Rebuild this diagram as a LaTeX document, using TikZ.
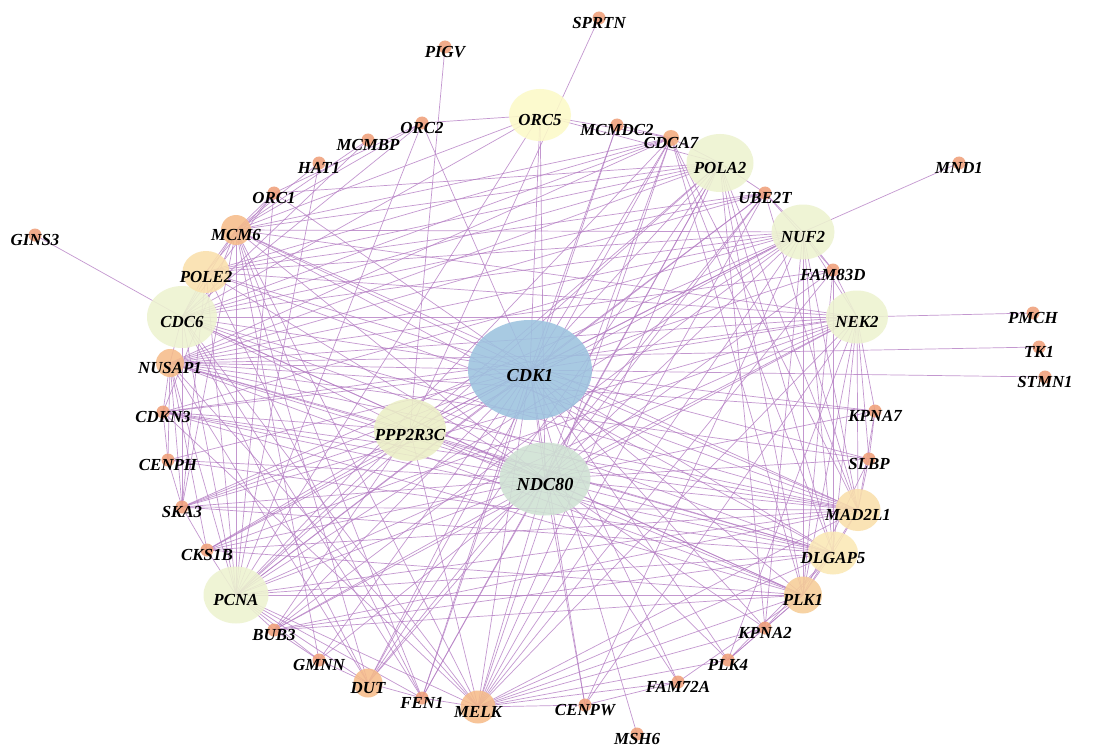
\documentclass[tikz,border=0pt]{standalone}
\usepackage{fontspec}
\setmainfont{Liberation Serif}
\usetikzlibrary{shapes.geometric, backgrounds}

\definecolor{hubblue}{HTML}{9DC3DF}
\definecolor{ndcgreen}{HTML}{CFE2D3}
\definecolor{palegreen}{HTML}{EDF3D0}
\definecolor{pppgreen}{HTML}{EBEFC6}
\definecolor{paleyellow}{HTML}{FCFAC8}
\definecolor{sand}{HTML}{FAE0AB}
\definecolor{lightsand}{HTML}{FBE9B6}
\definecolor{apricot}{HTML}{F7CE98}
\definecolor{peach}{HTML}{F6BC8A}
\definecolor{salmon}{HTML}{F3AB7E}
\definecolor{dotcol}{HTML}{F0A07A}
\definecolor{linkcol}{HTML}{B57EC4}

\tikzset{
  lbl/.style={font=\fontsize{12pt}{14pt}\selectfont\bfseries\itshape,
    inner sep=0pt, fill opacity=1, text opacity=1, yshift=-0.13cm},
  gene/.style n args={4}{ellipse, inner sep=0pt,
    minimum width=#1*0.025cm, minimum height=#2*0.025cm,
    fill=#3, fill opacity=0.88, label={[lbl]center:#4}},
  dot/.style={gene={13}{13}{dotcol}{#1}},
  link/.style={draw=linkcol, line width=0.5pt, draw opacity=0.8}
}

\begin{document}
\begin{tikzpicture}[x=0.025cm, y=-0.025cm]
    \useasboundingbox (0,0) rectangle (1101,749);

    % hubs in the middle
    \node[gene={124}{100}{hubblue}{\fontsize{13pt}{15pt}\selectfont CDK1}] (cdk1) at (530,370) {};
    \node[gene={91}{73}{ndcgreen}{\fontsize{13pt}{15pt}\selectfont NDC80}] (ndc80) at (545,479) {};
    \node[gene={72}{62}{pppgreen}{PPP2R3C}] (ppp) at (410,430) {};

    % larger genes on the ring
    \node[gene={62}{52}{paleyellow}{ORC5}] (orc5) at (540,115) {};
    \node[gene={67}{58}{palegreen}{POLA2}] (pola2) at (720,163) {};
    \node[gene={63}{55}{palegreen}{NUF2}] (nuf2) at (803,232) {};
    \node[gene={62}{53}{palegreen}{NEK2}] (nek2) at (857,317) {};
    \node[gene={70}{62}{palegreen}{CDC6}] (cdc6) at (182,317) {};
    \node[gene={65}{57}{palegreen}{PCNA}] (pcna) at (236,595) {};
    \node[gene={47}{42}{sand}{POLE2}] (pole2) at (206,272) {};
    \node[gene={45}{42}{sand}{MAD2L1}] (mad) at (858,510) {};
    \node[gene={50}{43}{lightsand}{DLGAP5}] (dlgap) at (833,553) {};
    \node[gene={38}{37}{apricot}{PLK1}] (plk1) at (803,595) {};
    \node[gene={30}{30}{peach}{MCM6}] (mcm6) at (236,230) {};
    \node[gene={28}{28}{peach}{NUSAP1}] (nusap) at (170,363) {};
    \node[gene={29}{29}{peach}{DUT}] (dut) at (368,683) {};
    \node[gene={35}{33}{peach}{MELK}] (melk) at (478,707) {};
    \node[gene={16}{16}{salmon}{CDCA7}] (cdca7) at (671,138) {};

    % small genes
    \node[dot=SPRTN] (sprtn) at (599,18) {};
    \node[dot=PIGV] (pigv) at (445,47) {};
    \node[dot=ORC2] (orc2) at (422,123) {};
    \node[dot=MCMBP] (mcmbp) at (368,140) {};
    \node[dot=HAT1] (hat1) at (319,163) {};
    \node[dot=ORC1] (orc1) at (274,193) {};
    \node[dot=GINS3] (gins3) at (35,235) {};
    \node[dot=CDKN3] (cdkn3) at (163,412) {};
    \node[dot=CENPH] (cenph) at (168,460) {};
    \node[dot=SKA3] (ska3) at (182,507) {};
    \node[dot=CKS1B] (cks1b) at (207,550) {};
    \node[dot=BUB3] (bub3) at (274,630) {};
    \node[dot=GMNN] (gmnn) at (319,660) {};
    \node[dot=FEN1] (fen1) at (422,698) {};
    \node[dot=CENPW] (cenpw) at (585,705) {};
    \node[dot=MSH6] (msh6) at (637,734) {};
    \node[dot=FAM72A] (fam72a) at (678,682) {};
    \node[dot=PLK4] (plk4) at (728,660) {};
    \node[dot=KPNA2] (kpna2) at (765,628) {};
    \node[dot=SLBP] (slbp) at (869,459) {};
    \node[dot=KPNA7] (kpna7) at (875,411) {};
    \node[dot=STMN1] (stmn1) at (1045,377) {};
    \node[dot=TK1] (tk1) at (1039,347) {};
    \node[dot=PMCH] (pmch) at (1033,313) {};
    \node[dot=FAM83D] (fam83d) at (833,270) {};
    \node[dot=MND1] (mnd1) at (959,163) {};
    \node[dot=UBE2T] (ube2t) at (765,193) {};
    \node[dot=MCMDC2] (mcmdc2) at (617,125) {};

    \begin{scope}[on background layer]
    \fill[white] (0,0) rectangle (1101,749);
    % interactions
    \foreach \a/\b in {gins3/cdc6, pigv/ppp, sprtn/ppp, mnd1/nuf2, pmch/nek2, tk1/nusap, stmn1/cdk1, msh6/cdk1,
      cdk1/orc5, cdk1/orc1, cdk1/orc2, cdk1/mcm6, cdk1/pole2, cdk1/cdc6, cdk1/nusap, cdk1/cdkn3, cdk1/cenph,
      cdk1/ska3, cdk1/cks1b, cdk1/pcna, cdk1/bub3, cdk1/gmnn, cdk1/dut, cdk1/fen1, cdk1/melk, cdk1/cenpw,
      cdk1/fam72a, cdk1/plk4, cdk1/kpna2, cdk1/plk1, cdk1/dlgap, cdk1/mad, cdk1/slbp, cdk1/kpna7, cdk1/nek2,
      cdk1/fam83d, cdk1/nuf2, cdk1/ube2t, cdk1/pola2, cdk1/cdca7, cdk1/mcmdc2, cdk1/ppp, cdk1/ndc80,
      ndc80/nuf2, ndc80/nek2, ndc80/fam83d, ndc80/ube2t, ndc80/pola2, ndc80/cdca7, ndc80/cdc6, ndc80/nusap,
      ndc80/cdkn3, ndc80/ska3, ndc80/cks1b, ndc80/pcna, ndc80/bub3, ndc80/gmnn, ndc80/dut, ndc80/fen1,
      ndc80/melk, ndc80/cenpw, ndc80/fam72a, ndc80/plk4, ndc80/kpna2, ndc80/plk1, ndc80/dlgap, ndc80/mad,
      ndc80/kpna7, ndc80/slbp, ndc80/mcm6, ndc80/pole2, ndc80/orc5, ndc80/ppp, ndc80/cenph,
      cdc6/pole2, cdc6/mcm6, cdc6/orc1, cdc6/orc2, cdc6/orc5, cdc6/mcmbp, cdc6/pcna, cdc6/pola2, cdc6/cdca7,
      cdc6/nuf2, cdc6/nek2, cdc6/mad, cdc6/dlgap, cdc6/plk1, cdc6/melk, cdc6/dut, cdc6/nusap, cdc6/ppp,
      cdc6/ska3, cdc6/fen1, cdc6/ube2t,
      pcna/pole2, pcna/mcm6, pcna/hat1, pcna/orc1, pcna/orc2, pcna/orc5, pcna/pola2, pcna/cdca7, pcna/ube2t,
      pcna/nuf2, pcna/nek2, pcna/plk1, pcna/dlgap, pcna/mad, pcna/fen1, pcna/dut, pcna/gmnn, pcna/bub3,
      pcna/cks1b, pcna/melk, pcna/ppp, pcna/nusap,
      pola2/pole2, pola2/mcm6, pola2/orc1, pola2/orc5, pola2/cdca7, pola2/ube2t, pola2/fen1, pola2/dut,
      pola2/plk1, pola2/mad, pola2/dlgap, pola2/nusap, pola2/melk, pola2/ppp, pola2/kpna2,
      nuf2/nek2, nuf2/fam83d, nuf2/ube2t, nuf2/nusap, nuf2/cdkn3, nuf2/ska3, nuf2/cks1b, nuf2/bub3, nuf2/mcm6,
      nuf2/pole2, nuf2/melk, nuf2/plk1, nuf2/dlgap, nuf2/mad, nuf2/kpna2, nuf2/cenpw, nuf2/ppp,
      nek2/fam83d, nek2/nusap, nek2/cdkn3, nek2/ska3, nek2/cks1b, nek2/bub3, nek2/melk, nek2/plk1, nek2/dlgap,
      nek2/mad, nek2/kpna7, nek2/slbp, nek2/plk4, nek2/mcm6, nek2/pole2, nek2/cenpw,
      ppp/cks1b, ppp/ska3, ppp/nusap, ppp/cdkn3, ppp/plk1, ppp/melk, ppp/mad, ppp/dlgap, ppp/bub3,
      mad/slbp, mad/kpna7, mad/dlgap, mad/plk1, mad/nusap, mad/cdkn3, mad/bub3, mad/cks1b, mad/mcm6,
      mad/pole2, mad/ska3, mad/melk, mad/cdca7, mad/ube2t,
      dlgap/plk1, dlgap/nusap, dlgap/cdkn3, dlgap/ska3, dlgap/bub3, dlgap/melk, dlgap/kpna2, dlgap/plk4,
      dlgap/mcm6, dlgap/cdca7, dlgap/fam83d, dlgap/cenph,
      plk1/kpna2, plk1/plk4, plk1/melk, plk1/nusap, plk1/cdkn3, plk1/cks1b, plk1/bub3, plk1/fam83d,
      plk1/cdca7, plk1/fam72a, plk1/slbp,
      melk/cenpw, melk/fen1, melk/kpna2, melk/plk4, melk/fam72a, melk/nusap, melk/cdkn3, melk/mcm6,
      melk/cdca7, melk/ube2t, melk/fam83d,
      dut/fen1, dut/gmnn, dut/ube2t, dut/cdca7, dut/mcm6, dut/nusap,
      mcm6/orc1, mcm6/orc2, mcm6/orc5, mcm6/mcmbp, mcm6/hat1, mcm6/pole2, mcm6/cdca7, mcm6/fen1, mcm6/gmnn,
      mcm6/cdkn3, mcm6/ska3,
      pole2/orc1, pole2/cdca7, pole2/fen1, pole2/ube2t, pole2/ska3,
      nusap/cdkn3, nusap/cenph, nusap/ska3, nusap/cks1b, nusap/fam83d, nusap/kpna7, nusap/slbp, nusap/cdca7,
      nusap/ube2t,
      orc1/orc2, orc2/orc5, orc5/cdca7, mcmdc2/fen1, mcmdc2/cdca7, cdkn3/cenph, cenph/ska3, ska3/cks1b,
      bub3/gmnn, kpna7/slbp, ube2t/fam83d, cenpw/fam72a, plk4/kpna2}
      \draw[link] (\a.center) -- (\b.center);
    \end{scope}
\end{tikzpicture}
\end{document}
